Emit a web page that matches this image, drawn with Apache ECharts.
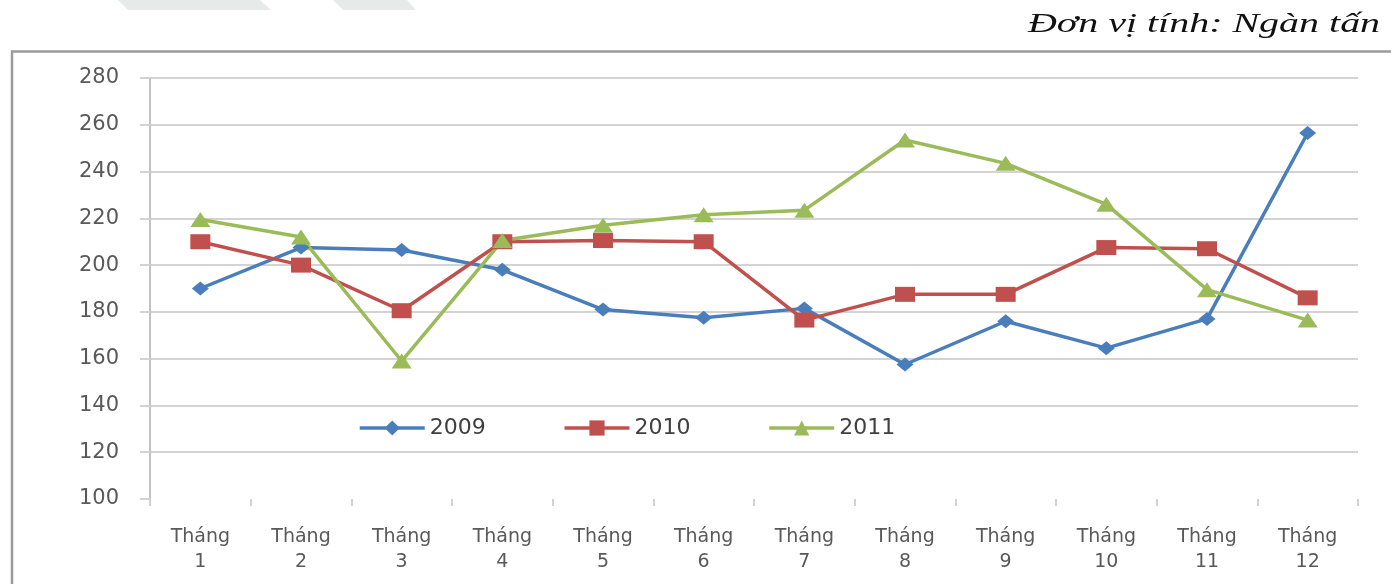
<!DOCTYPE html>
<html>
<head>
<meta charset="utf-8">
<title>Sản lượng theo tháng</title>
<script src="https://cdn.jsdelivr.net/npm/echarts@6/dist/echarts.min.js"></script>
<style>
  html, body { margin: 0; padding: 0; background: #ffffff; }
  #chart { width: 1391px; height: 584px; }
</style>
</head>
<body>
<div id="chart"></div>
<script>
// Months on the category axis
const months = ['Tháng\n1', 'Tháng\n2', 'Tháng\n3', 'Tháng\n4', 'Tháng\n5', 'Tháng\n6',
                'Tháng\n7', 'Tháng\n8', 'Tháng\n9', 'Tháng\n10', 'Tháng\n11', 'Tháng\n12'];

// Monthly volume, thousand tonnes
const seriesNames = ['2009', '2010', '2011'];
const values2009 = [190, 207.5, 206.5, 198, 181, 177.5, 181.5, 157.5, 176, 164.5, 177, 256.5];
const values2010 = [210, 200, 180.5, 210, 210.5, 210, 176.5, 187.5, 187.5, 207.5, 207, 186];
const values2011 = [219.5, 212, 159, 210.5, 217, 221.5, 223.5, 253.5, 243.5, 226, 189.5, 176.5];

// Value axis range
const yMin = 100;
const yMax = 280;
const yStep = 20;

const unitText = 'Đơn vị tính: Ngàn tấn';

const colors = ['#4a7ebb', '#c0504d', '#9bbb59'];
const labelColor = '#595959';
const gridColor = '#d3d3d3';

const chart = echarts.init(document.getElementById('chart'), null, { renderer: 'canvas' });

function lineSeries(name, data, color, symbol, size) {
  return {
    name: name,
    type: 'line',
    data: data,
    symbol: symbol,
    symbolSize: size,
    showSymbol: true,
    lineStyle: { color: color, width: 3.5 },
    itemStyle: { color: color },
    emphasis: { disabled: true },
    z: 3
  };
}

chart.setOption({
  animation: false,
  backgroundColor: '#ffffff',
  graphic: [
    { type: 'polygon', shape: { points: [[118, 0], [260, 0], [271, 10], [128, 10]] },
      style: { fill: '#e8eaea' }, silent: true },
    { type: 'polygon', shape: { points: [[333, 0], [407, 0], [416, 10], [343, 10]] },
      style: { fill: '#e8eaea' }, silent: true },
    { type: 'rect', shape: { x: 12, y: 51.5, width: 1420, height: 620 },
      style: { fill: 'none', stroke: '#9a9a9a', lineWidth: 2.5 }, silent: true },
    { type: 'text', x: 1028, y: 11, scaleX: 1.48, scaleY: 1,
      style: { text: unitText, font: 'italic 27px "Liberation Serif", serif',
               fill: '#111111', verticalAlign: 'top', align: 'left' },
      silent: true }
  ],
  legend: {
    data: seriesNames,
    left: 353,
    top: 412,
    orient: 'horizontal',
    itemWidth: 65,
    itemHeight: 19,
    itemGap: 77,
    lineStyle: { width: 3.5 },
    textStyle: { color: '#404040', fontSize: 22, fontFamily: 'DejaVu Sans' },
    selectedMode: false
  },
  grid: { left: 150, right: 33, top: 78, bottom: 85, containLabel: false },
  xAxis: {
    type: 'category',
    data: months,
    boundaryGap: true,
    axisLine: { show: false },
    axisTick: { show: true, length: 7, lineStyle: { color: gridColor, width: 2 } },
    axisLabel: {
      color: labelColor, fontSize: 19, fontFamily: 'DejaVu Sans',
      lineHeight: 25, margin: 26, interval: 0
    },
    splitLine: { show: false }
  },
  yAxis: {
    type: 'value',
    min: yMin,
    max: yMax,
    interval: yStep,
    axisLine: { show: true, lineStyle: { color: '#c2c2c2', width: 2 } },
    axisTick: { show: true, length: 10, lineStyle: { color: gridColor, width: 2 } },
    axisLabel: { color: labelColor, fontSize: 21, fontFamily: 'DejaVu Sans', margin: 31 },
    splitLine: { show: true, showMinLine: false, lineStyle: { color: gridColor, width: 2 } }
  },
  series: [
    lineSeries(seriesNames[0], values2009, colors[0], 'diamond', [17, 14]),
    lineSeries(seriesNames[1], values2010, colors[1], 'rect', [20, 15]),
    lineSeries(seriesNames[2], values2011, colors[2], 'triangle', [20, 15])
  ]
});
</script>
</body>
</html>
